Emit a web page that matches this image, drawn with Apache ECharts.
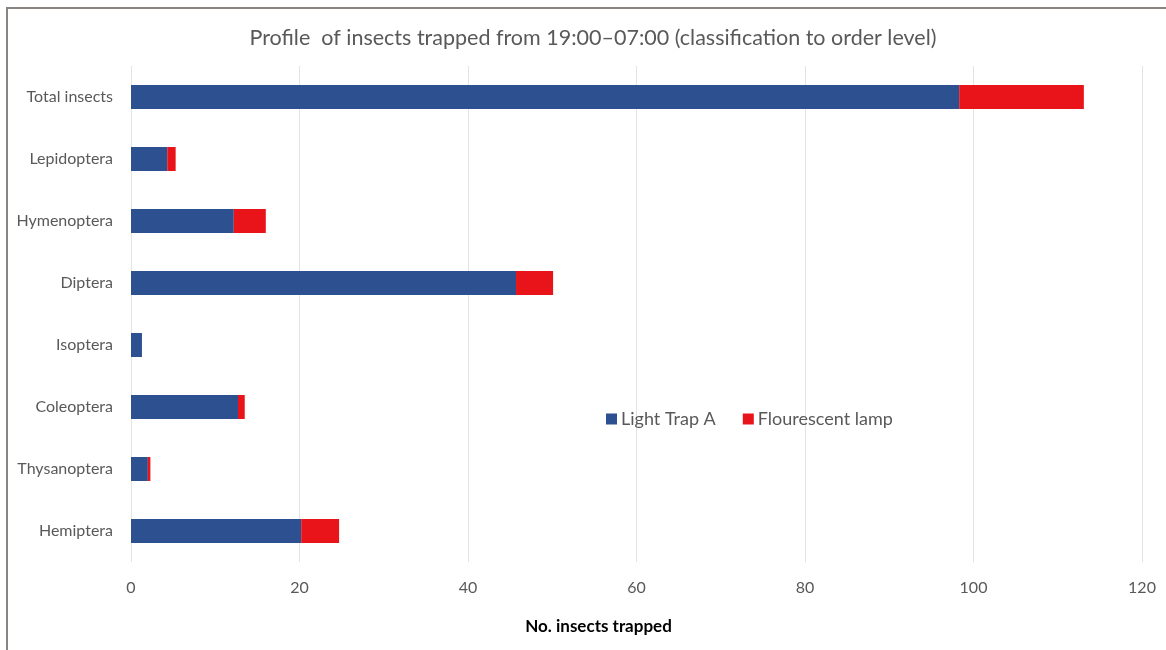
<!DOCTYPE html>
<html>
<head>
<meta charset="utf-8">
<script src="https://cdn.jsdelivr.net/npm/echarts@6/dist/echarts.min.js"></script>
<style>
  html, body { margin: 0; padding: 0; background: #ffffff; }
  #chart { width: 1166px; height: 650px; }
</style>
</head>
<body>
<div id="chart"></div>
<script>
// Insect orders, listed bottom-to-top on the category axis
const categories = ['Hemiptera', 'Thysanoptera', 'Coleoptera', 'Isoptera', 'Diptera', 'Hymenoptera', 'Lepidoptera', 'Total insects'];
const lightTrapA = [20.2, 2.0, 12.7, 1.3, 45.7, 12.2, 4.3, 98.3];
const flourescentLamp = [4.5, 0.3, 0.8, 0, 4.4, 3.8, 1.0, 14.8];
const xTicks = { min: 0, max: 120, interval: 20 };

const FONT = 'Lato, "Open Sans", sans-serif';
const GREY = '#595959';

const chart = echarts.init(document.getElementById('chart'), null, { renderer: 'canvas' });
chart.setOption({
  backgroundColor: '#ffffff',
  animation: false,
  title: {
    text: 'Profile  of insects trapped from 19:00\u201307:00 (classification to order level)',
    left: 588,
    textAlign: 'center',
    top: 22,
    textStyle: { fontFamily: FONT, fontSize: 21.5, fontWeight: 'normal', color: GREY }
  },
  legend: {
    left: 601,
    top: 405,
    itemWidth: 11,
    itemHeight: 11,
    itemGap: 27,
    icon: 'rect',
    textStyle: { fontFamily: FONT, fontSize: 18, color: GREY, padding: [0, 0, 0, -1] },
    data: ['Light Trap A', 'Flourescent lamp']
  },
  grid: { left: 131, right: 24, top: 66, bottom: 88, containLabel: false },
  xAxis: {
    type: 'value',
    min: xTicks.min,
    max: xTicks.max,
    interval: xTicks.interval,
    name: 'No. insects trapped',
    nameLocation: 'middle',
    nameGap: 56,
    nameTextStyle: { fontFamily: FONT, fontSize: 17, fontWeight: 'bold', color: '#000000', padding: [0, 76, 0, 0] },
    axisLine: { show: false },
    axisTick: { show: false },
    axisLabel: { fontFamily: FONT, fontSize: 16, color: GREY, margin: 18 },
    splitLine: { show: true, lineStyle: { color: '#e3e3e3', width: 1 } }
  },
  yAxis: {
    type: 'category',
    data: categories,
    axisLine: { show: false },
    axisTick: { show: false },
    axisLabel: { fontFamily: FONT, fontSize: 16, color: GREY, margin: 18 },
    splitLine: { show: false }
  },
  series: [
    {
      name: 'Light Trap A',
      type: 'bar',
      stack: 'total',
      data: lightTrapA,
      barWidth: 24,
      itemStyle: { color: '#2d5090' }
    },
    {
      name: 'Flourescent lamp',
      type: 'bar',
      stack: 'total',
      data: flourescentLamp,
      barWidth: 24,
      itemStyle: { color: '#e8141a' }
    }
  ],
  graphic: [
    {
      type: 'polyline',
      shape: { points: [[7, 650], [7, 8], [1166, 8]] },
      style: { stroke: '#8a8580', lineWidth: 2, fill: null }
    }
  ]
});
</script>
</body>
</html>
